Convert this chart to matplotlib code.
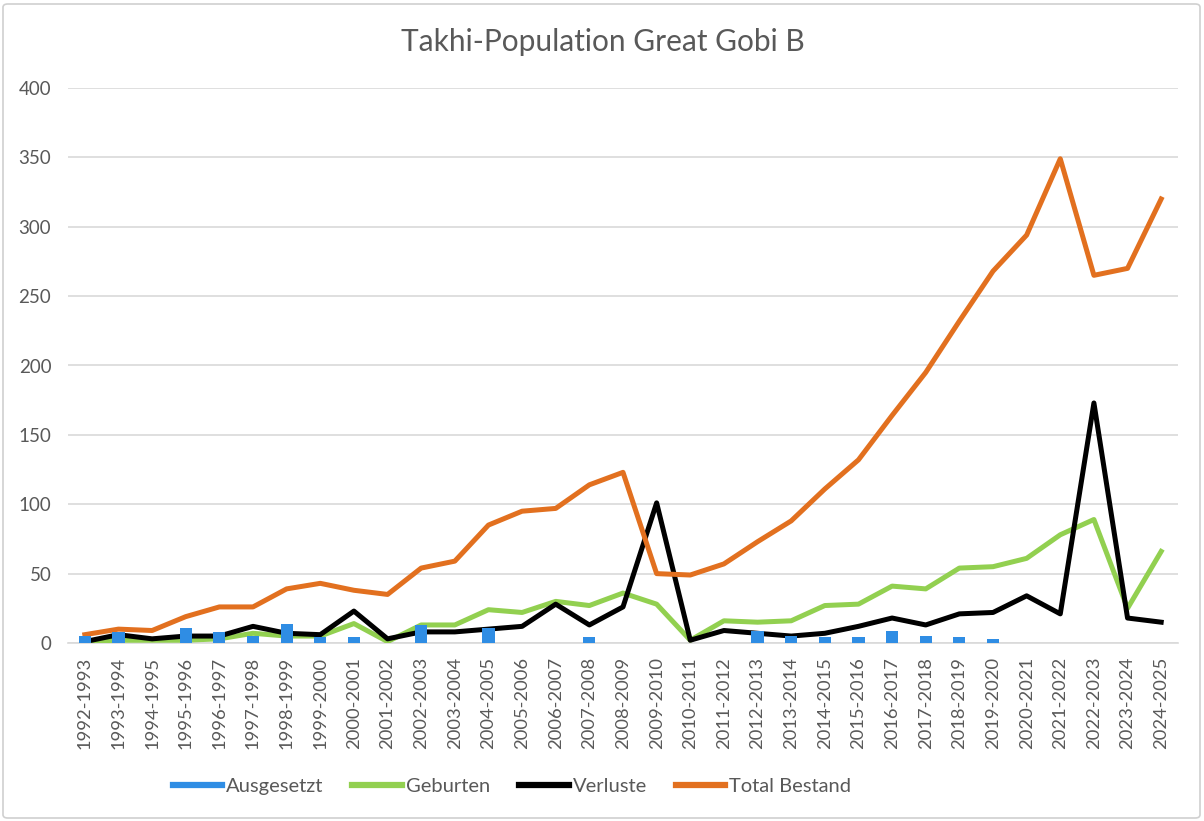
import matplotlib
matplotlib.use("Agg")
import matplotlib.pyplot as plt
from matplotlib.patches import FancyBboxPatch
from matplotlib.lines import Line2D
import numpy as np

plt.rcParams['font.family'] = ['Lato', 'DejaVu Sans']

seasons = [f"{y}-{y+1}" for y in range(1992, 2025)]
ausgesetzt = [5, 8, 0, 11, 8, 5, 14, 4, 4, 0, 13, 0, 11, 0, 0, 4, 0, 0, 0, 0,
              9, 5, 4, 4, 9, 5, 4, 3, 0, 0, 0, 0, 0]
geburten = [1, 2, 2, 2, 3, 7, 5, 5, 14, 1, 13, 13, 24, 22, 30, 27, 36, 28, 2, 16,
            15, 16, 27, 28, 41, 39, 54, 55, 61, 78, 89, 25, 66]
verluste = [1, 6, 3, 5, 5, 12, 7, 6, 23, 3, 8, 8, 10, 12, 28, 13, 26, 101, 2, 9,
            7, 5, 7, 12, 18, 13, 21, 22, 34, 21, 173, 18, 15]
total = [6, 10, 9, 19, 26, 26, 39, 43, 38, 35, 54, 59, 85, 95, 97, 114, 123, 50, 49, 57,
         73, 88, 111, 132, 164, 195, 232, 268, 294, 349, 265, 270, 320]

C_BLUE = '#2F8DE4'
C_GREEN = '#92D050'
C_BLACK = '#000000'
C_ORANGE = '#E2701F'
GRAY = '#595959'

fig = plt.figure(figsize=(12.04, 8.21), dpi=100)
ax = fig.add_axes([68/1204, 1-643/821, (1178-68)/1204, (643-88)/821])

x = np.arange(len(seasons))
ax.plot(x, geburten, color=C_GREEN, lw=3.6, label='Geburten', zorder=3, solid_joinstyle='round')
ax.plot(x, verluste, color=C_BLACK, lw=3.6, label='Verluste', zorder=4, solid_joinstyle='round')
ax.plot(x, total, color=C_ORANGE, lw=3.6, label='Total Bestand', zorder=5, solid_joinstyle='round')
ax.bar(x, ausgesetzt, width=0.36, color=C_BLUE, label='Ausgesetzt', zorder=6)

ax.set_xlim(-0.5, len(seasons) - 0.5)
ax.set_ylim(0, 400)
ax.set_yticks(range(0, 401, 50))
ax.set_xticks(x)
ax.set_xticklabels(seasons, rotation=90, fontsize=13.2, color=GRAY)
ax.tick_params(axis='y', labelsize=13.5, labelcolor=GRAY, length=0, pad=12)
ax.tick_params(axis='x', length=0, pad=10)
ax.grid(axis='y', color='#D9D9D9', lw=1.2, zorder=0)
ax.set_axisbelow(True)
for s in ['top', 'right', 'left']:
    ax.spines[s].set_visible(False)
ax.spines['bottom'].set_color('#D9D9D9')
ax.spines['bottom'].set_linewidth(1.2)

fig.text(603/1204, 1-42/821, 'Takhi-Population Great Gobi B', ha='center', va='center',
         fontsize=21.5, color=GRAY)

handles = [Line2D([], [], color=C_BLUE, lw=4.5),
           Line2D([], [], color=C_GREEN, lw=4.5),
           Line2D([], [], color=C_BLACK, lw=4.5),
           Line2D([], [], color=C_ORANGE, lw=4.5)]
labels = ['Ausgesetzt', 'Geburten', 'Verluste', 'Total Bestand']
leg = fig.legend(handles, labels, loc='center', bbox_to_anchor=(512/1204, 1-786/821), ncol=4,
                 frameon=False, fontsize=14.5, handlelength=2.45, handletextpad=0.2,
                 columnspacing=1.45)
for t in leg.get_texts():
    t.set_color(GRAY)

border = FancyBboxPatch((3/1204, 3/821), 1197/1204, 814/821, boxstyle='round,pad=0,rounding_size=0.004',
                        transform=fig.transFigure, fill=False, edgecolor='#D0D0D0', lw=1.2)
fig.patches.append(border)

fig.savefig('out.png', dpi=100)
